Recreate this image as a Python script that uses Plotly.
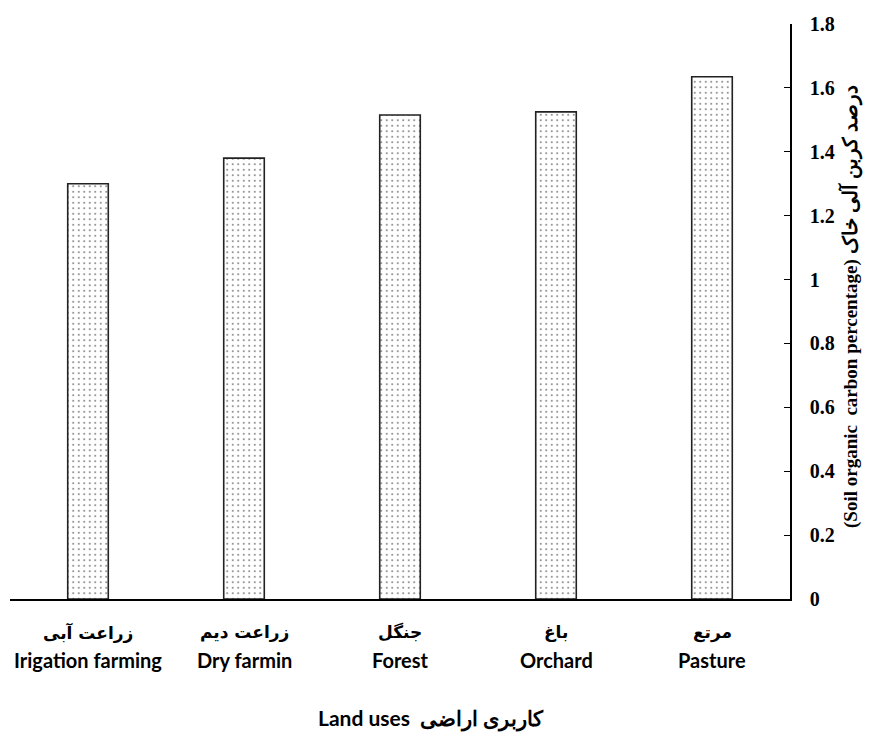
import plotly.graph_objects as go

categories_en = ["Irigation farming", "Dry farmin", "Forest", "Orchard", "Pasture"]
categories_fa = ["زراعت آبی", "زراعت دیم", "جنگل", "باغ", "مرتع"]
carbon = [1.30, 1.38, 1.515, 1.525, 1.635]
y_ticks = [0, 0.2, 0.4, 0.6, 0.8, 1, 1.2, 1.4, 1.6, 1.8]

# page body has an 8px margin; plot area target: x 10..790, y 24..599
L, T, PW, PH = 2, 16, 780, 575
SERIF = "Liberation Serif, Times New Roman, DejaVu Serif, serif"

fig = go.Figure()
fig.add_trace(go.Bar(
    x=categories_en, y=carbon, width=0.26,
    marker=dict(color="white",
                line=dict(color="#222", width=1.6),
                pattern=dict(shape=".", size=5.5, solidity=0.11, fgcolor="black", bgcolor="white")),
))

ann = []
for fa, en in zip(categories_fa, categories_en):
    ann.append(dict(x=en, y=0, xref="x", yref="paper", yshift=-33, yanchor="middle",
                    xanchor="center", text="<b>" + fa + "</b>",
                    showarrow=False, font=dict(family="DejaVu Sans", size=17, color="black")))
    ann.append(dict(x=en, y=0, xref="x", yref="paper", yshift=-61, yanchor="middle",
                    xanchor="center", text="<b>" + en + "</b>",
                    showarrow=False, font=dict(family="Lato", size=20, color="black", weight="bold")))
ann.append(dict(x=(431 - 10) / PW, y=-(718 - 599) / PH, xref="paper", yref="paper",
                xanchor="center", yanchor="middle",
                text="<b>Land uses  کاربری اراضی</b>", showarrow=False,
                font=dict(family="Lato", size=21, color="black", weight="bold")))
ann.append(dict(x=(850 - 10) / PW, y=(599 - 307) / PH, xref="paper", yref="paper", textangle=-90,
                xanchor="center", yanchor="middle",
                text="<b>(Soil organic  carbon percentage) "
                     "<span style='font-size:20px'>درصد کربن آلی خاک</span></b>",
                showarrow=False,
                font=dict(family=SERIF, size=19, color="black", weight="bold")))

fig.update_layout(
    width=L + PW + 82, height=T + PH + 139,
    margin=dict(l=L, r=82, t=T, b=139, autoexpand=False),
    paper_bgcolor="white", plot_bgcolor="white",
    showlegend=False,
    annotations=ann,
    xaxis=dict(showticklabels=False, ticks="", showline=True, linecolor="black", linewidth=1.5,
               showgrid=False, zeroline=False),
    yaxis=dict(side="right", range=[0, 1.8], tickvals=y_ticks,
               ticktext=["<b>" + str(v) + "</b>" for v in y_ticks],
               ticks="inside", ticklen=6, tickcolor="black", tickwidth=1.2,
               showline=True, linecolor="black", linewidth=1.5, showgrid=False, zeroline=False,
               ticklabelstandoff=14,
               tickfont=dict(family=SERIF, size=20, color="black", weight="bold")),
)

fig.write_html("out.html")
